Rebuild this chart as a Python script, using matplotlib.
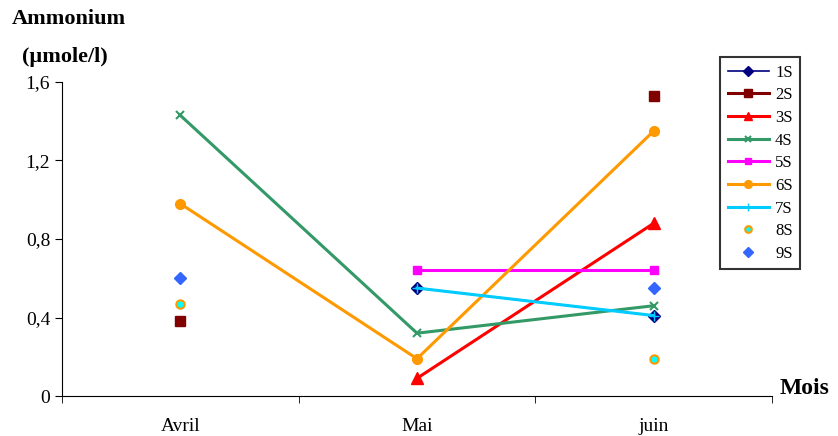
import numpy as np
import matplotlib.pyplot as plt
from matplotlib.ticker import FixedLocator

plt.rcParams['font.family'] = ['Liberation Serif', 'DejaVu Serif']

months = ['Avril', 'Mai', 'juin']
nan = np.nan
s1 = [nan, 0.55, 0.41]
s2 = [0.38, nan, 1.53]
s3 = [nan, 0.09, 0.88]
s4 = [1.43, 0.32, 0.46]
s5 = [nan, 0.64, 0.64]
s6 = [0.98, 0.19, 1.35]
s7 = [nan, 0.55, 0.41]
s8 = [0.47, nan, 0.19]
s9 = [0.60, nan, 0.55]

fig = plt.figure(figsize=(8.38, 4.36), dpi=100)
ax = fig.add_axes([62/838, 40/436, 710/838, 314/436])
x = np.arange(len(months))

ax.plot(x, s1, color='#000080', lw=1.2, marker='D', ms=6, label='1S')
ax.plot(x, s2, color='#800000', lw=2.2, marker='s', ms=7, ls='-', label='2S')
ax.plot(x, s3, color='red', lw=2.2, marker='^', ms=8, label='3S')
ax.plot(x, s4, color='#339966', lw=2.2, marker='x', ms=6, mew=1.5, label='4S')
ax.plot(x, s5, color='#ff00ff', lw=2.2, marker='s', ms=6, label='5S')
ax.plot(x, s6, color='#ff9900', lw=2.2, marker='o', ms=7, label='6S')
ax.plot(x, s7, color='#00ccff', lw=2.2, marker='+', ms=7, label='7S')
ax.plot(x, s8, color='#ff9900', lw=0, marker='o', ms=6, mfc='#00ffff', mew=1.5, label='8S')
ax.plot(x, s9, color='#3366ff', lw=0, marker='D', ms=6, label='9S')

ax.set_xlim(-0.5, 2.5)
ax.set_ylim(0, 1.6)
ax.set_xticks(x)
ax.set_xticklabels(months, fontsize=14)
ax.tick_params(axis='x', which='major', length=0, pad=16)
ax.xaxis.set_minor_locator(FixedLocator([-0.5, 0.5, 1.5, 2.5]))
ax.tick_params(axis='x', which='minor', length=5, direction='out')
ax.set_yticks([0, 0.4, 0.8, 1.2, 1.6])
ax.set_yticklabels(['0', '0,4', '0,8', '1,2', '1,6'], fontsize=14)
ax.tick_params(axis='y', length=5, direction='out')
ax.spines['top'].set_visible(False)
ax.spines['right'].set_visible(False)

fig.text(12/838, 1 - 19/436, 'Ammonium', fontsize=16, fontweight='bold', va='center')
fig.text(22/838, 1 - 57/436, '(µmole/l)', fontsize=16, fontweight='bold', va='center')
fig.text(780/838, 1 - 388/436, 'Mois', fontsize=17, fontweight='bold', va='center')

leg = ax.legend(loc='upper left', bbox_to_anchor=(720/838, 1 - 57/436),
                bbox_transform=fig.transFigure, borderaxespad=0, fontsize=12,
                frameon=True, fancybox=False, edgecolor='black', handlelength=2.5,
                labelspacing=0.4, borderpad=0.45, handletextpad=0.35,
                markerscale=0.8)
leg.get_frame().set_linewidth(1.5)

fig.savefig('out.png', dpi=100)
